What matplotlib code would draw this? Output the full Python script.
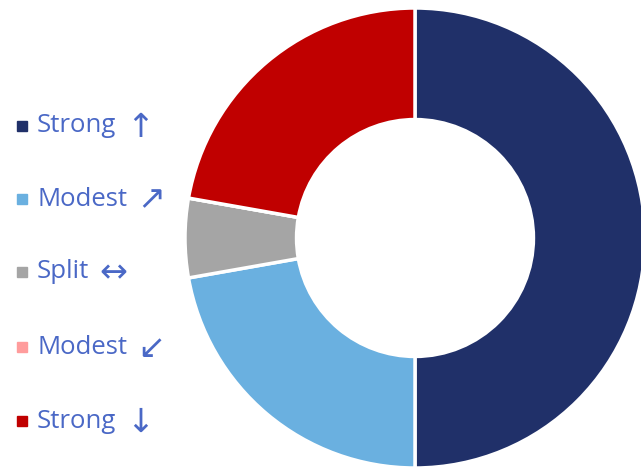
import matplotlib.pyplot as plt
from matplotlib.patches import Rectangle

labels = ['Strong ↑', 'Modest ↗', 'Split ↔', 'Modest ↙', 'Strong ↓']
values = [9, 4, 1, 0, 4]
colors = ['#203069', '#6AB0E0', '#A5A5A5', '#FF9C9C', '#C00000']
text_color = '#4A68C6'

plt.rcParams['font.family'] = ['Open Sans', 'DejaVu Sans']

fig = plt.figure(figsize=(6.41, 4.69), dpi=100)
W, H = 641, 469
cx, cy, r = 415, 238, 230
ax = fig.add_axes([(cx - r) / W, (H - cy - r) / H, 2 * r / W, 2 * r / H])
ax.pie(values, colors=colors, startangle=90, counterclock=False, radius=1,
       wedgeprops=dict(width=0.485, edgecolor='white', linewidth=2.5))
ax.set_xlim(-1, 1)
ax.set_ylim(-1, 1)
ax.set_aspect('equal')
ax.axis('off')

# legend: square, name, arrow (arrow drawn larger in DejaVu)
row_y = [126, 199, 272, 347, 421]
renderer = fig.canvas.get_renderer()
for lab, col, y in zip(labels, colors, row_y):
    name, arrow = lab.split(' ')
    fig.patches.append(Rectangle((17 / W, (H - y - 5) / H), 10 / W, 10 / H,
                                 transform=fig.transFigure, color=col))
    t = fig.text(37 / W, (H - y) / H, name, color=text_color, fontsize=18.5,
                 va='center', ha='left')
    x1 = t.get_window_extent(renderer).x1
    fig.text((x1 + 10) / W, (H - y - 1) / H, arrow, color=text_color, fontsize=24,
             va='center', ha='left', family='DejaVu Sans')

fig.savefig('out.png', dpi=100)
